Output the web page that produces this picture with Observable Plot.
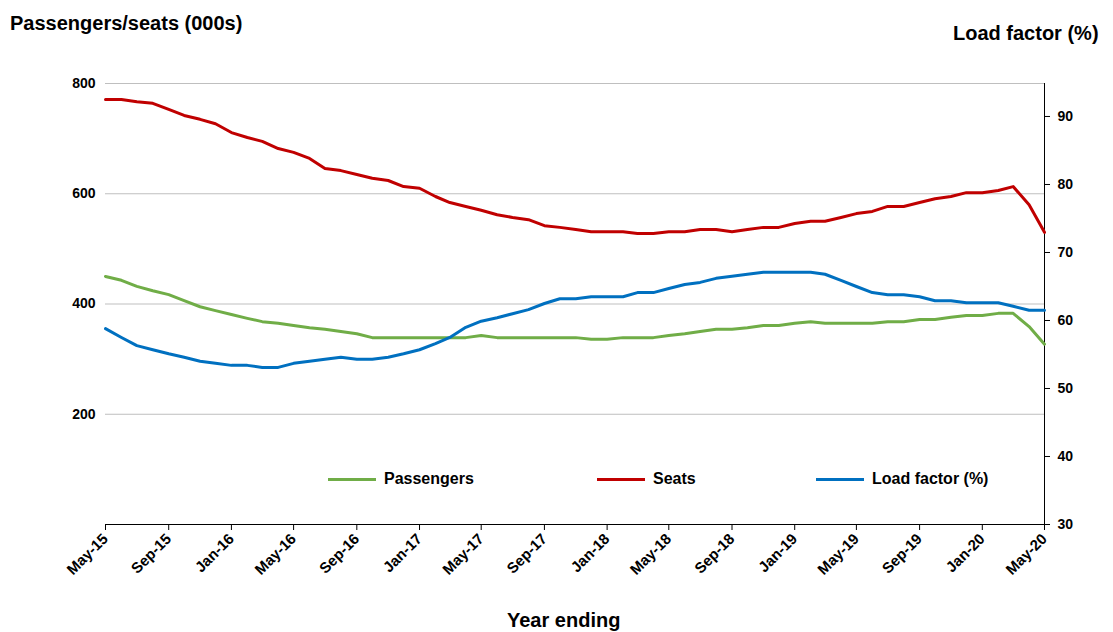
<!DOCTYPE html><html><head><meta charset="utf-8">
<script src="https://cdn.jsdelivr.net/npm/d3@7"></script>
<script src="https://cdn.jsdelivr.net/npm/@observablehq/plot@0.6"></script>
<style>body{margin:0;font-family:"Liberation Sans",Arial,sans-serif;background:#fff}
#w{position:relative;width:1113px;height:632px}
.t{position:absolute;font-weight:bold;font-size:20px;color:#000}
.lg{position:absolute;top:470px;font-weight:bold;font-size:16px;display:flex;align-items:center}
.lg span{display:inline-block;width:48px;height:3px;margin-right:8px}
</style></head><body><div id="w">
<div class="t" style="left:10px;top:12px">Passengers/seats (000s)</div>
<div class="t" style="left:953px;top:22px">Load factor (%)</div>
<div class="t" style="left:507px;top:609px">Year ending</div>
<div class="lg" style="left:328px"><span style="background:#70ad47"></span>Passengers</div>
<div class="lg" style="left:597px"><span style="background:#c00000"></span>Seats</div>
<div class="lg" style="left:816px"><span style="background:#0070c0"></span>Load factor (%)</div>
</div>
<script>
const seats=[771,771,767,764,753,742,735,727,711,702,695,682,675,664,646,642,635,628,624,613,610,595,584,577,570,562,557,553,542,539,535,531,531,531,528,528,531,531,535,535,531,535,539,539,546,550,550,557,564,568,577,577,584,591,595,602,602,606,613,580,530];
const passengers=[450,443,432,424,417,406,395,388,381,374,368,365,361,357,354,350,346,339,339,339,339,339,339,339,343,339,339,339,339,339,339,336,336,339,339,339,343,346,350,354,354,357,361,361,365,368,365,365,365,365,368,368,372,372,376,379,379,383,383,359,327];
const loadFactor=[58.8,57.5,56.3,55.7,55.1,54.6,54.0,53.7,53.4,53.4,53.1,53.1,53.7,54.0,54.3,54.6,54.3,54.3,54.6,55.1,55.7,56.6,57.5,59.0,59.9,60.4,61.0,61.6,62.5,63.2,63.2,63.5,63.5,63.5,64.1,64.1,64.7,65.3,65.6,66.2,66.5,66.8,67.1,67.1,67.1,67.1,66.8,65.9,65.0,64.1,63.8,63.8,63.5,62.9,62.9,62.6,62.6,62.6,62.1,61.5,61.5];
const rightTicks=[30,40,50,60,70,80,90];
const leftTicks=[200,400,600,800];
const dates=seats.map((_,i)=>new Date(Date.UTC(2015,4+i,1)));
const toL=v=>(v-30)*800/64.85, fromL=v=>30+v*64.85/800;
const rows=k=>dates.map((d,i)=>({d,v:k[i]}));
const fmt=d3.utcFormat("%b-%y");
const xt=dates.filter((_,i)=>i%4===0);
const p=Plot.plot({width:1113,height:600,marginLeft:105,marginRight:69,marginTop:83,marginBottom:76,
style:{fontFamily:"Liberation Sans, Arial, sans-serif",fontSize:"14px",fontWeight:"bold"},
x:{type:"utc",domain:[dates[0],dates[60]]},
y:{domain:[0,800]},
marks:[
Plot.gridY(leftTicks,{stroke:"#bfbfbf",strokeOpacity:1}),
Plot.axisY({ticks:leftTicks,tickSize:0,tickPadding:10,label:null}),
Plot.axisY({anchor:"right",ticks:rightTicks.map(toL),tickFormat:v=>Math.round(fromL(v)),tickSize:5,tickPadding:8,label:null}),
Plot.ruleX([dates[60]],{stroke:"#000"}),
Plot.ruleY([0],{stroke:"#000"}),
Plot.axisX({ticks:xt,tickFormat:fmt,tickRotate:-45,tickSize:6,label:null,textAnchor:"end",fontSize:15}),
Plot.lineY(rows(passengers),{x:"d",y:"v",stroke:"#70ad47",strokeWidth:3}),
Plot.lineY(rows(seats),{x:"d",y:"v",stroke:"#c00000",strokeWidth:3}),
Plot.lineY(rows(loadFactor.map(toL)),{x:"d",y:"v",stroke:"#0070c0",strokeWidth:3})
]});
p.style.position="absolute";p.style.left="0";p.style.top="0";
document.getElementById("w").prepend(p);
</script></body></html>
